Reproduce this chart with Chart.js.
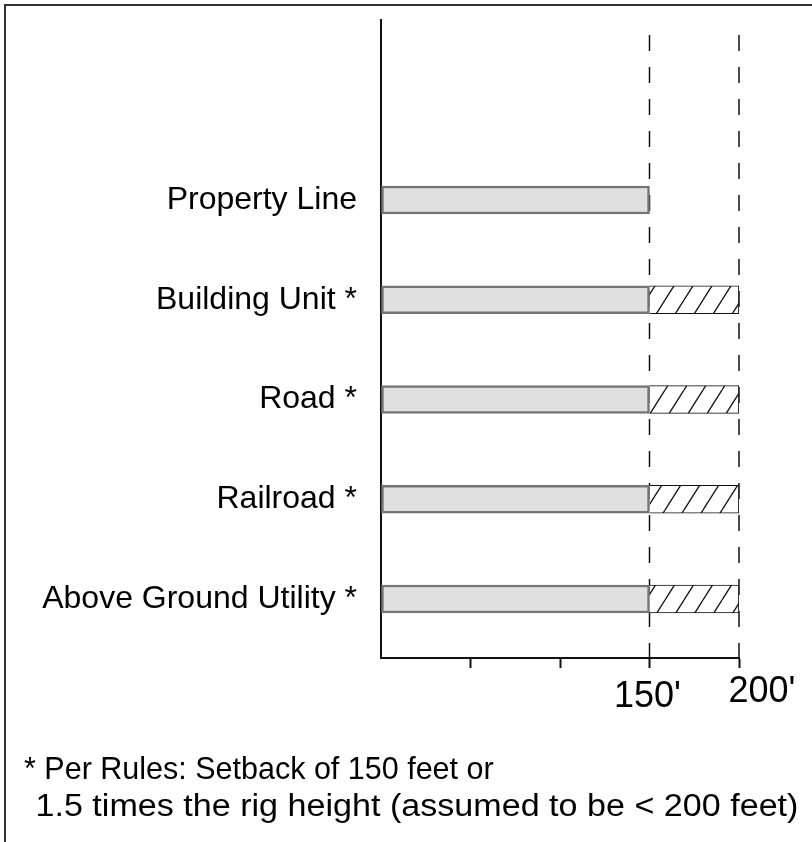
<!DOCTYPE html>
<html>
<head>
<meta charset="utf-8">
<script src="https://cdn.jsdelivr.net/npm/chart.js@4.4.1/dist/chart.umd.min.js"></script>
<style>
  html, body { margin: 0; padding: 0; background: #fff; }
  #wrap { position: relative; width: 812px; height: 842px; overflow: hidden; background: #fff; }
  #frame { position: absolute; left: 4px; top: 4px; width: 900px; height: 900px;
           border-left: 2px solid #333; border-top: 2px solid #333; }
  #c { position: absolute; left: 0; top: 0; }
  .note { position: absolute; font-family: "Liberation Sans", Arial, sans-serif;
          line-height: 36px; color: #000; white-space: pre; transform-origin: 0 50%; }
</style>
</head>
<body>
<div id="wrap">
  <div id="frame"></div>
  <canvas id="c" width="812" height="842"></canvas>
  <div class="note" style="left:24px; top:750px; font-size:30.5px;">* Per Rules: Setback of 150 feet or</div>
  <div class="note" style="left:26px; top:788px; font-size:31px; transform: scaleX(1.1);"> 1.5 times the rig height (assumed to be &lt; 200 feet)</div>
</div>
<script>
// ---- data ----
const categories = ["Property Line", "Building Unit *", "Road *", "Railroad *", "Above Ground Utility *"];
const baseSetback = [150, 150, 150, 150, 150];       // solid grey part (feet)
const extraSetback = [null, 50, 50, 50, 50];          // hatched part up to 200 ft
const xTickValues = [150, 200];
const xTickLabels = ["150'", "200'"];
const refLineValues = [150, 200];

// hatch pattern
function makeHatch() {
  const w = 19, h = 30;
  const pc = document.createElement('canvas');
  pc.width = w; pc.height = h;
  const g = pc.getContext('2d');
  g.fillStyle = '#fff';
  g.fillRect(0, 0, w, h);
  g.strokeStyle = '#111';
  g.lineWidth = 1.3;
  g.beginPath();
  for (const off of [-w, 0, w]) {
    g.moveTo(off, h); g.lineTo(off + w, 0);
  }
  g.stroke();
  return g.createPattern(pc, 'repeat');
}

const ctx = document.getElementById('c').getContext('2d');

const refLinesPlugin = {
  id: 'refLines',
  beforeDatasetsDraw(chart) {
    const xs = chart.scales.x, area = chart.chartArea, c = chart.ctx;
    c.save();
    c.strokeStyle = '#111';
    c.lineWidth = 1.5;
    c.setLineDash([16, 16]);
    refLineValues.forEach(v => {
      const px = xs.getPixelForValue(v);
      c.beginPath();
      c.moveTo(px, area.top + 15);
      c.lineTo(px, area.bottom);
      c.stroke();
    });
    c.restore();
  },
  afterDraw(chart) {
    const xs = chart.scales.x, c = chart.ctx;
    const offsets = [[-2, 49], [23, 44]];
    c.save();
    c.fillStyle = '#000';
    c.font = '36px "Liberation Sans", Arial, sans-serif';
    c.textAlign = 'center';
    c.textBaseline = 'alphabetic';
    xTickValues.forEach((v, i) => {
      const px = xs.getPixelForValue(v) + offsets[i][0];
      c.fillText(xTickLabels[i], px, xs.top + offsets[i][1]);
    });
    c.restore();
  }
};

new Chart(ctx, {
  type: 'bar',
  data: {
    datasets: [
      {
        label: 'Setback',
        data: categories.map((_, i) => ({ y: i + 1, x: baseSetback[i] })),
        backgroundColor: '#e0e0e0',
        borderColor: '#757575',
        borderWidth: 2.5,
        borderSkipped: false,
        barThickness: 28,
        stack: 's'
      },
      {
        label: 'Rig height based',
        data: categories.map((_, i) => ({ y: i + 1, x: extraSetback[i] })),
        backgroundColor: makeHatch(),
        borderColor: '#111',
        borderWidth: 1.2,
        borderSkipped: 'start',
        barThickness: 28,
        stack: 's'
      }
    ]
  },
  options: {
    indexAxis: 'y',
    responsive: false,
    animation: false,
    layout: { padding: { top: 20, right: 73, bottom: 0, left: 0 } },
    plugins: { legend: { display: false }, tooltip: { enabled: false } },
    scales: {
      x: {
        type: 'linear',
        stacked: true,
        min: 0,
        max: 200,
        ticks: { stepSize: 50, display: false },
        grid: {
          display: true,
          drawOnChartArea: false,
          drawTicks: true,
          tickLength: 10,
          tickWidth: 2,
          tickColor: (c) => (c.tick && c.tick.value === 0 ? 'rgba(0,0,0,0)' : '#111')
        },
        border: { display: true, color: '#111', width: 2 },
        afterFit(scale) { scale.height = 842 - 658; scale.paddingLeft = 0; scale.paddingRight = 0; }
      },
      y: {
        type: 'linear',
        reverse: true,
        offset: false,
        min: -0.8045,
        max: 5.5915,
        afterBuildTicks(scale) {
          scale.ticks = categories.map((_, i) => ({ value: i + 1 }));
        },
        ticks: {
          autoSkip: false,
          padding: 24,
          color: '#000',
          font: { family: '"Liberation Sans", Arial, sans-serif', size: 32 },
          callback: (v) => categories[v - 1]
        },
        grid: { display: false, drawTicks: false, offset: false },
        border: { display: true, color: '#111', width: 2 },
        afterFit(scale) { scale.width = 381; scale.paddingTop = 0; scale.paddingBottom = 0; }
      }
    }
  },
  plugins: [refLinesPlugin]
});
</script>
</body>
</html>
